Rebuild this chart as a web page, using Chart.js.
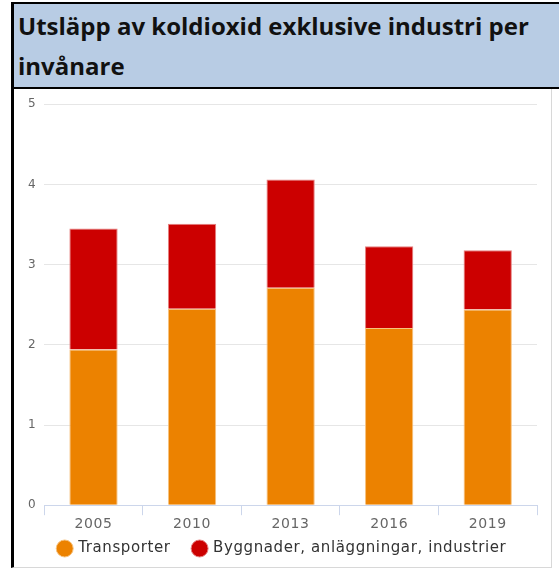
<!DOCTYPE html>
<html>
<head>
<meta charset="utf-8">
<script src="https://cdn.jsdelivr.net/npm/chart.js@4"></script>
<style>
  body { margin: 0; background: #fff; width: 559px; height: 570px; overflow: hidden; position: relative; }
  #title {
    position: absolute; left: 11px; top: 2px; width: 548px; height: 87px;
    background: #b8cce4; border-top: 2px solid #000; border-left: 3px solid #000; border-bottom: 2px solid #000;
    font-family: "Open Sans", "Liberation Sans", sans-serif; font-weight: bold; font-size: 24px;
    color: #111; line-height: 40px; padding-left: 4px; padding-top: 2px; box-sizing: border-box;
  }
  #frame {
    position: absolute; left: 11px; top: 89px; width: 541px; height: 479px;
    border-left: 3px solid #000; border-right: 1px solid #d8d8d8; border-bottom: 1px solid #d8d8d8;
    box-sizing: border-box;
  }
  #wrap { position: absolute; left: 14px; top: 89px; width: 536px; height: 477px; }
</style>
</head>
<body>
<div id="title">Utsläpp av koldioxid exklusive industri per<br>invånare</div>
<div id="frame"></div>
<div id="wrap"><canvas id="c" width="536" height="477"></canvas></div>
<script>
// årtal och värden (ton CO2 per invånare)
const years = ["2005", "2010", "2013", "2016", "2019"];
const transporter = [1.94, 2.45, 2.71, 2.21, 2.44];
const byggnader = [1.51, 1.06, 1.35, 1.02, 0.74];
const yTicks = [0, 1, 2, 3, 4, 5];

const ctx = document.getElementById("c").getContext("2d");

// lite bredare bokstäver, som i originalet (canvas-state nollställs vid resize, så sätt igen)
const spacing = {
  id: "spacing",
  beforeLayout: (chart) => { chart.ctx.letterSpacing = "0.6px"; },
  beforeDraw: (chart) => { chart.ctx.letterSpacing = "0.6px"; }
};

// stort mellanrum mellan legendposterna utan att legenden blir högre
const LEG_PAD = 23, LEG_BASE = 7;
const legendGap = {
  id: "legendGap",
  beforeLayout: (chart) => {
    const lg = chart.legend;
    if (lg && !lg._gap) {
      const fit = lg.fit;
      lg.fit = function () { fit.call(this); this.height -= LEG_PAD - LEG_BASE; };
      lg._gap = true;
    }
  },
  afterLayout: (chart) => {
    const lg = chart.legend;
    lg.top -= LEG_PAD - LEG_BASE;
    lg.left += 4;
    lg.right += 4;
  }
};

new Chart(ctx, {
  type: "bar",
  data: {
    labels: years,
    datasets: [
      {
        label: "Transporter",
        data: transporter,
        backgroundColor: "#ec8200",
        borderColor: "#f6c27f",
        borderWidth: 1,
        categoryPercentage: 1,
        barPercentage: 0.49
      },
      {
        label: "Byggnader, anläggningar, industrier",
        data: byggnader,
        backgroundColor: "#cc0000",
        borderColor: "#e58080",
        borderWidth: 1,
        categoryPercentage: 1,
        barPercentage: 0.49
      }
    ]
  },
  options: {
    responsive: false,
    animation: false,
    layout: { padding: { left: 6, right: 13, top: 12, bottom: 0 } },
    plugins: {
      title: { display: false },
      tooltip: { enabled: false },
      legend: {
        position: "bottom",
        labels: {
          usePointStyle: true,
          pointStyle: "circle",
          boxWidth: 12,
          boxHeight: 12,
          padding: LEG_PAD,
          color: "#333",
          font: { family: "DejaVu Sans", size: 15 }
        }
      }
    },
    scales: {
      x: {
        stacked: true,
        grid: {
          display: true,
          offset: true,
          drawOnChartArea: false,
          drawTicks: true,
          tickLength: 10,
          color: "#ccd6eb"
        },
        border: { display: true, color: "#ccd6eb" },
        ticks: { color: "#666", padding: 1, font: { family: "DejaVu Sans", size: 14 } }
      },
      y: {
        stacked: true,
        min: 0,
        max: 5,
        afterBuildTicks: (axis) => { axis.ticks = yTicks.map(v => ({ value: v })); },
        grid: { color: "#e6e6e6", drawTicks: false },
        border: { display: false },
        ticks: { color: "#666", padding: 8, font: { family: "DejaVu Sans", size: 12 } }
      }
    }
  },
  plugins: [spacing, legendGap]
});
</script>
</body>
</html>
